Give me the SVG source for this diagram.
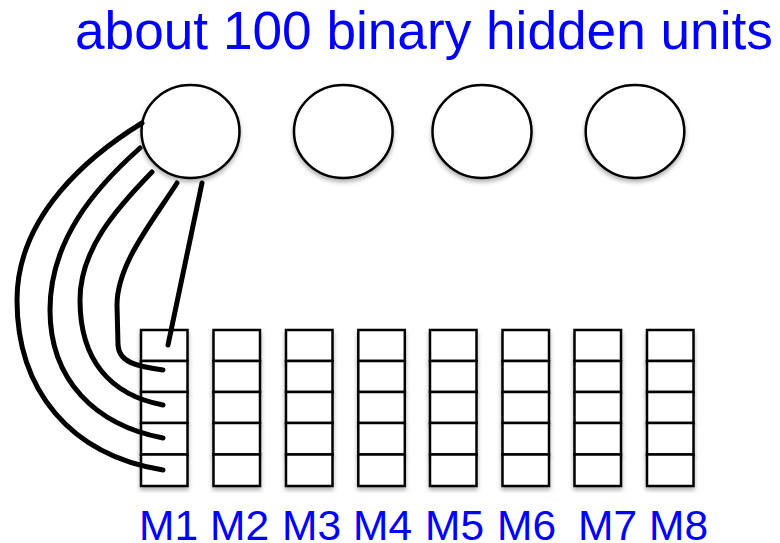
<svg xmlns="http://www.w3.org/2000/svg" width="780" height="543" viewBox="0 0 780 543">
<defs>
<filter id="sh" x="-20%" y="-20%" width="140%" height="140%">
<feDropShadow dx="0" dy="3" stdDeviation="2.2" flood-color="#000" flood-opacity="0.3"/>
</filter>
<g id="col">
<rect x="0" y="0" width="46.5" height="31" class="cell"/>
<rect x="0" y="31" width="46.5" height="31" class="cell"/>
<rect x="0" y="62" width="46.5" height="31" class="cell"/>
<rect x="0" y="93" width="46.5" height="31.5" class="cell"/>
<rect x="0" y="124.5" width="46.5" height="31.5" class="cell"/>
</g>
</defs>
<style>
.unit{fill:#fff;stroke:#000;stroke-width:2.5;filter:url(#sh)}
.cell{fill:#fff;stroke:#000;stroke-width:2.5;filter:url(#sh)}
.lbl{font-family:"Liberation Sans",Arial,sans-serif;fill:#0000ff}
.conn{fill:none;stroke:#000;stroke-width:5;stroke-linecap:round;stroke-linejoin:round}
</style>
<rect width="780" height="543" fill="#fff"/>
<text class="lbl" x="75" y="49" font-size="53.2">about 100 binary hidden units</text>
<g id="h1"><ellipse class="unit" cx="190.5" cy="131.5" rx="49" ry="46.5"/></g>
<g id="h2"><ellipse class="unit" cx="343.3" cy="131.5" rx="49.3" ry="46.5"/></g>
<g id="h3"><ellipse class="unit" cx="482" cy="131.5" rx="49.5" ry="46.5"/></g>
<g id="h4"><ellipse class="unit" cx="635" cy="131.5" rx="49.3" ry="46.5"/></g>
<g id="m1"><use href="#col" x="141" y="330"/><text class="lbl" x="139" y="540" font-size="42.5">M1</text></g>
<g id="m2"><use href="#col" x="213.5" y="330"/><text class="lbl" x="210" y="540" font-size="42.5">M2</text></g>
<g id="m3"><use href="#col" x="286" y="330"/><text class="lbl" x="282" y="540" font-size="42.5">M3</text></g>
<g id="m4"><use href="#col" x="358.3" y="330"/><text class="lbl" x="353" y="540" font-size="42.5">M4</text></g>
<g id="m5"><use href="#col" x="430" y="330"/><text class="lbl" x="425" y="540" font-size="42.5">M5</text></g>
<g id="m6"><use href="#col" x="502.5" y="330"/><text class="lbl" x="497" y="540" font-size="42.5">M6</text></g>
<g id="m7"><use href="#col" x="574.5" y="330"/><text class="lbl" x="578" y="540" font-size="42.5">M7</text></g>
<g id="m8"><use href="#col" x="647" y="330"/><text class="lbl" x="649" y="540" font-size="42.5">M8</text></g>
<g id="connectors">
<path class="conn" d="M142,123 C90,155 17,215 17,300 C17,390 70,455 163,470"/>
<path class="conn" d="M140,148 C95,188 50,240 50,310 C50,380 95,425 163,438"/>
<path class="conn" d="M152,172 C115,210 80,250 80,300 C80,360 110,395 163,405"/>
<path class="conn" d="M177,183 C150,225 117,265 117,305 L118,345 C119,362 135,366 163,370"/>
<path class="conn" d="M202,183 L168,345"/>
</g>
</svg>
